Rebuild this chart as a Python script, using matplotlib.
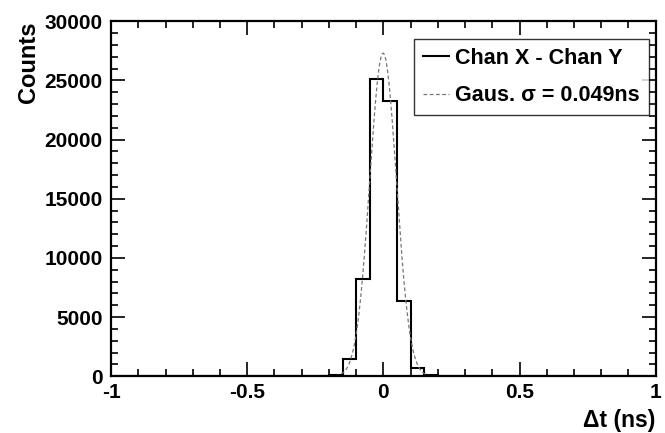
import numpy as np
import matplotlib
matplotlib.use("Agg")
import matplotlib.pyplot as plt
from matplotlib.ticker import MultipleLocator

plt.rcParams['font.family'] = ['Liberation Sans', 'DejaVu Sans']
plt.rcParams['font.weight'] = 'bold'
plt.rcParams['axes.unicode_minus'] = False

# histogramm: 40 bins von -1 bis 1 ns
bin_edges = np.linspace(-1.0, 1.0, 41)
counts = np.zeros(40)
# nur die bins um den peak sind gefuellt
peak_bins = [16, 17, 18, 19, 20, 21, 22, 23]
peak_counts = [110, 1490, 8200, 25100, 23300, 6350, 730, 100]
counts[peak_bins] = peak_counts

# gauss fit parameter
gaus_amp = 27300
gaus_mean = -0.001
gaus_sigma = 0.049
fit_range = (-0.2, 0.2)

fig = plt.figure(figsize=(6.65, 4.33), dpi=100)
ax = fig.add_axes([0.167, 0.131, 0.819, 0.820])

ax.stairs(counts, bin_edges, color='black', linewidth=1.5, label='Chan X - Chan Y')

xf = np.linspace(fit_range[0], fit_range[1], 400)
yf = gaus_amp * np.exp(-0.5 * ((xf - gaus_mean) / gaus_sigma) ** 2)
ax.plot(xf, yf, color='#777777', linestyle=(0, (3, 2)), linewidth=0.9,
        label='Gaus. σ = 0.049ns')

ax.set_xlim(-1, 1)
ax.set_ylim(0, 30000)

ax.xaxis.set_major_locator(MultipleLocator(0.5))
ax.xaxis.set_minor_locator(MultipleLocator(0.1))
ax.yaxis.set_major_locator(MultipleLocator(5000))
ax.yaxis.set_minor_locator(MultipleLocator(1000))
ax.set_xticks([-1, -0.5, 0, 0.5, 1])
ax.set_xticklabels(['-1', '-0.5', '0', '0.5', '1'])

ax.tick_params(which='both', direction='in', top=True, right=True, width=1.2,
               labelsize=15)
ax.tick_params(which='major', length=10)
ax.tick_params(which='minor', length=5)
ax.tick_params(axis='y', pad=6)
ax.tick_params(axis='x', pad=5)
for s in ax.spines.values():
    s.set_linewidth(1.6)

ax.set_xlabel('Δt (ns)', fontsize=16.5, fontweight='bold', loc='right', labelpad=5)
ax.set_ylabel('Counts', fontsize=17, fontweight='bold', loc='top', labelpad=3)

leg = ax.legend(loc='upper right', bbox_to_anchor=(0.987, 0.949), borderaxespad=0,
                fontsize=15.5, frameon=True, fancybox=False, edgecolor='black',
                handlelength=1.2, handletextpad=0.3, borderpad=0.4,
                labelspacing=0.75)
leg.get_frame().set_linewidth(1.0)

fig.savefig('out.png', dpi=100)
